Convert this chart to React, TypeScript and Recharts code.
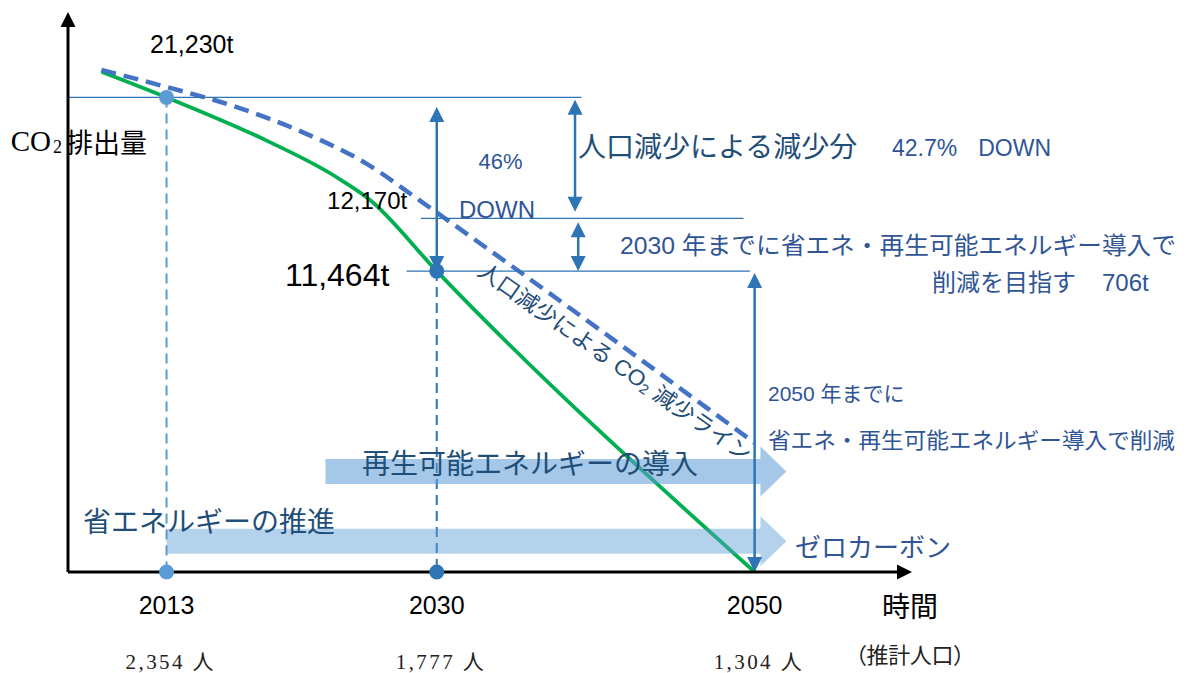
import React from 'react';
import { ComposedChart, Line, XAxis, YAxis, ReferenceLine, ReferenceDot } from 'recharts';

document.body.style.margin = '0';

const years = [2013, 2030, 2050];
const population = ['2,354 人', '1,777 人', '1,304 人'];
const emissionLabels = ['21,230t', '12,170t', '11,464t'];

// the drawing is schematic, so CO2 is kept as an index of its height (2013 = 100)
const actualYears = [2008.9, 2013, 2019.3, 2023.5, 2025.8, 2030, 2050];
const actualIndex = [105.4, 100, 90.9, 83.6, 78.4, 63.4, 0];
const popLineYears = [2008.9, 2013.0, 2017.2, 2021.4, 2025.6, 2028.8, 2030.4, 2050];
const popLineIndex = [105.8, 102.2, 98.2, 92.9, 86.0, 78.6, 74.8, 27.2];

// 2013 level, 2030 level from population decrease only, 2030 target
const levels = [100, 74.5, 63.4];

const actualData = actualYears.map((year, i) => ({ year, value: actualIndex[i] }));
const popLineData = popLineYears.map((year, i) => ({ year, value: popLineIndex[i] }));

const SANS = "'Liberation Sans', 'Noto Sans CJK JP', sans-serif";
const JP = "'Noto Sans CJK JP', sans-serif";
const SERIF = "'Liberation Serif', 'Noto Sans CJK JP', serif";
const BLUE = '#2E75B6';
const TEXT_BLUE = '#2F5597';
const DARK_BLUE = '#1F4E79';

const arrowLine = (both: boolean, color: string, width: number, size = 15) => (p: any) => {
  const { x1, y1, x2, y2 } = p;
  const len = Math.hypot(x2 - x1, y2 - y1) || 1;
  const ux = (x2 - x1) / len;
  const uy = (y2 - y1) / len;
  const head = (tx: number, ty: number, dx: number, dy: number) => {
    const bx = tx - dx * size;
    const by = ty - dy * size;
    const px = (-dy * size) / 2;
    const py = (dx * size) / 2;
    return `${tx},${ty} ${bx + px},${by + py} ${bx - px},${by - py}`;
  };
  const sx = both ? x1 + ux * size * 0.8 : x1;
  const sy = both ? y1 + uy * size * 0.8 : y1;
  return (
    <g>
      <line x1={sx} y1={sy} x2={x2 - ux * size * 0.8} y2={y2 - uy * size * 0.8} stroke={color} strokeWidth={width} />
      <polygon points={head(x2, y2, ux, uy)} fill={color} />
      {both && <polygon points={head(x1, y1, -ux, -uy)} fill={color} />}
    </g>
  );
};

const blockArrow = (color: string, opacity: number) => (p: any) => {
  const { x1, y1, x2 } = p;
  const bh = 12.5;
  const hh = 25;
  const hl = 26;
  const pts = [
    [x1, y1 - bh], [x2 - hl, y1 - bh], [x2 - hl, y1 - hh], [x2, y1],
    [x2 - hl, y1 + hh], [x2 - hl, y1 + bh], [x1, y1 + bh],
  ].map((q) => q.join(',')).join(' ');
  return <polygon points={pts} fill={color} fillOpacity={opacity} />;
};

const note = (key: string, x: number, y: number, draw: (cx: number, cy: number) => React.ReactNode) => (
  <ReferenceDot key={key} x={x} y={y} r={0} ifOverflow="visible" zIndex={600} shape={(p: any) => <g>{draw(p.cx, p.cy)}</g>} />
);

const txt = (
  cx: number, cy: number, s: React.ReactNode, size: number, fill: string,
  family = SANS, extra: any = {},
) => (
  <text x={cx} y={cy} fontSize={size} fill={fill} fontFamily={family} dominantBaseline="central" {...extra}>
    {s}
  </text>
);

const renderTick = (props: any) => {
  const { x, y, payload } = props;
  const i = years.indexOf(payload.value);
  return (
    <g>
      <text x={x} y={y + 33} textAnchor="middle" dominantBaseline="central" fontSize={25} fontFamily={SANS} fill="#000">
        {payload.value}
      </text>
      <text
        x={x + 3}
        y={y + 90}
        textAnchor="middle"
        dominantBaseline="central"
        fontSize={21}
        fontFamily={SERIF}
        fill="#222"
        textLength={88}
        lengthAdjust="spacing"
      >
        {population[i]}
      </text>
    </g>
  );
};

const axisTitle = (props: any) => {
  const vb = props.viewBox;
  const cx = vb.x + vb.width - 2;
  return (
    <g>
      <text x={cx} y={vb.y + 33} textAnchor="middle" dominantBaseline="central" fontSize={28} fontFamily={JP} fill="#000">
        時間
      </text>
      <text
        x={cx}
        y={vb.y + 83}
        textAnchor="middle"
        dominantBaseline="central"
        fontSize={22}
        fontFamily={SERIF}
        fill="#222"
        textLength={130}
        lengthAdjust="spacing"
      >
        （推計人口）
      </text>
    </g>
  );
};

export default function App() {
  return (
    <ComposedChart width={1187} height={673} margin={{ top: 12, right: 275, bottom: 6, left: 68 }}>
      <XAxis
        type="number"
        dataKey="year"
        domain={[2006.8, 2059.9]}
        allowDataOverflow
        ticks={years}
        height={95}
        axisLine={false}
        tickLine={false}
        tickSize={0}
        tickMargin={0}
        tick={renderTick}
        label={{ content: axisTitle }}
      />
      <YAxis type="number" domain={[0, 118]} allowDataOverflow hide />

      <ReferenceLine
        segment={[{ x: years[0], y: levels[0] }, { x: years[0], y: 0 }]}
        stroke="#5B9BD5"
        strokeWidth={2}
        strokeDasharray="10 6"
        zIndex={350}
      />
      <ReferenceLine
        segment={[{ x: years[1], y: levels[2] }, { x: years[1], y: 0 }]}
        stroke={BLUE}
        strokeWidth={2}
        strokeDasharray="10 6"
        zIndex={350}
      />

      <Line
        data={actualData}
        dataKey="value"
        type="monotone"
        stroke="#00B050"
        strokeWidth={3.8}
        dot={false}
        activeDot={false}
        isAnimationActive={false}
        zIndex={400}
      />
      <Line
        data={popLineData}
        dataKey="value"
        type="monotone"
        stroke="#4472C4"
        strokeWidth={4.5}
        strokeDasharray="15 8"
        dot={false}
        activeDot={false}
        isAnimationActive={false}
        zIndex={410}
      />

      <ReferenceLine segment={[{ x: 2023.0, y: 21.2 }, { x: 2052.0, y: 21.2 }]} ifOverflow="visible" zIndex={450} shape={blockArrow('#5B9BD5', 0.55)} />
      <ReferenceLine segment={[{ x: years[0], y: 6.5 }, { x: 2052.0, y: 6.5 }]} ifOverflow="visible" zIndex={450} shape={blockArrow('#5B9BD5', 0.45)} />

      <ReferenceLine segment={[{ x: 2006.8, y: levels[0] }, { x: 2039.1, y: levels[0] }]} stroke={BLUE} strokeWidth={1.3} zIndex={500} />
      <ReferenceLine segment={[{ x: 2029.0, y: levels[1] }, { x: 2049.3, y: levels[1] }]} stroke={BLUE} strokeWidth={1.3} zIndex={500} />
      <ReferenceLine segment={[{ x: 2028.1, y: levels[2] }, { x: 2049.7, y: levels[2] }]} stroke={BLUE} strokeWidth={1.3} zIndex={500} />

      <ReferenceLine segment={[{ x: years[1], y: 98.0 }, { x: years[1], y: levels[2] }]} ifOverflow="visible" zIndex={510} shape={arrowLine(true, BLUE, 2.5)} />
      <ReferenceLine segment={[{ x: 2038.7, y: 99.5 }, { x: 2038.7, y: 75.9 }]} ifOverflow="visible" zIndex={510} shape={arrowLine(true, BLUE, 2.5)} />
      <ReferenceLine segment={[{ x: 2038.9, y: 73.7 }, { x: 2038.9, y: levels[2] }]} ifOverflow="visible" zIndex={510} shape={arrowLine(true, BLUE, 2.5)} />
      <ReferenceLine segment={[{ x: years[2], y: 63.0 }, { x: years[2], y: 0 }]} ifOverflow="visible" zIndex={510} shape={arrowLine(true, BLUE, 2.5)} />

      <ReferenceLine segment={[{ x: 2006.8, y: 0 }, { x: 2059.9, y: 0 }]} ifOverflow="visible" zIndex={700} shape={arrowLine(false, '#000', 3)} />
      <ReferenceLine segment={[{ x: 2006.8, y: 0 }, { x: 2006.8, y: 118 }]} ifOverflow="visible" zIndex={700} shape={arrowLine(false, '#000', 3)} />

      <ReferenceDot x={years[0]} y={levels[0]} r={7.5} fill="#5B9BD5" stroke="none" ifOverflow="visible" zIndex={720} />
      <ReferenceDot x={years[0]} y={0} r={7.5} fill="#5B9BD5" stroke="none" ifOverflow="visible" zIndex={720} />
      <ReferenceDot x={years[1]} y={levels[2]} r={7.5} fill={BLUE} stroke="none" ifOverflow="visible" zIndex={720} />
      <ReferenceDot x={years[1]} y={0} r={7.5} fill={BLUE} stroke="none" ifOverflow="visible" zIndex={720} />

      {note('y-title', 2003.2, 90.8, (x, y) => (
        <text x={x} y={y} dominantBaseline="central" fill="#000">
          <tspan fontFamily={SERIF} fontSize={29}>CO</tspan>
          <tspan fontFamily={SERIF} fontSize={18} dy={6} dx={2}>2</tspan>
          <tspan fontFamily={JP} fontSize={27} dy={-6} dx={4}>排出量</tspan>
        </text>
      ))}
      {note('e2013', 2011.96, 111.2, (x, y) => txt(x, y, emissionLabels[0], 25, '#000'))}
      {note('e2030p', 2023.1, 78.2, (x, y) => txt(x, y, emissionLabels[1], 24, '#000'))}
      {note('e2030', 2020.45, 62.6, (x, y) => txt(x, y, emissionLabels[2], 32, '#000'))}
      {note('p46', 2032.63, 86.4, (x, y) => txt(x, y, '46%', 22, TEXT_BLUE))}
      {note('down', 2031.4, 76.3, (x, y) => txt(x, y, 'DOWN', 24, TEXT_BLUE))}
      {note('popcut', 2038.89, 90.0, (x, y) => txt(x, y, '人口減少による減少分', 28, DARK_BLUE, JP))}
      {note('p427', 2058.64, 89.3, (x, y) =>
        txt(x, y, <><tspan>42.7%</tspan><tspan dx={21}>DOWN</tspan></>, 23, TEXT_BLUE),
      )}
      {note('t2030a', 2041.53, 68.9, (x, y) =>
        txt(x, y, '2030 年までに省エネ・再生可能エネルギー導入で', 24, TEXT_BLUE, SANS, { textLength: 556, lengthAdjust: 'spacingAndGlyphs' }),
      )}
      {note('t2030b', 2061.16, 61.1, (x, y) =>
        txt(x, y, <><tspan>削減を目指す</tspan><tspan dx={26}>706t</tspan></>, 24, TEXT_BLUE),
      )}
      {note('popline', 2041.2, 44.2, (x, y) => (
        <text
          x={x}
          y={y}
          transform={`rotate(35 ${x} ${y})`}
          textAnchor="middle"
          dominantBaseline="central"
          fontFamily={SANS}
          fontSize={22}
          fill={DARK_BLUE}
          textLength={328}
          lengthAdjust="spacingAndGlyphs"
        >
          人口減少による CO<tspan fontSize={14} dy={5}>2</tspan>
          <tspan dy={-5}> 減少ライン</tspan>
        </text>
      ))}
      {note('t2050a', 2050.84, 37.7, (x, y) => txt(x, y, '2050 年までに', 21, TEXT_BLUE))}
      {note('t2050b', 2050.84, 27.8, (x, y) =>
        txt(x, y, '省エネ・再生可能エネルギー導入で削減', 22, TEXT_BLUE, SANS, { textLength: 407, lengthAdjust: 'spacingAndGlyphs' }),
      )}
      {note('renew', 2025.3, 23.2, (x, y) => txt(x, y, '再生可能エネルギーの導入', 28, DARK_BLUE, JP))}
      {note('save', 2007.74, 11.0, (x, y) => txt(x, y, '省エネルギーの推進', 28, DARK_BLUE, JP))}
      {note('zero', 2052.54, 5.5, (x, y) => txt(x, y, 'ゼロカーボン', 26, TEXT_BLUE, JP))}
    </ComposedChart>
  );
}
